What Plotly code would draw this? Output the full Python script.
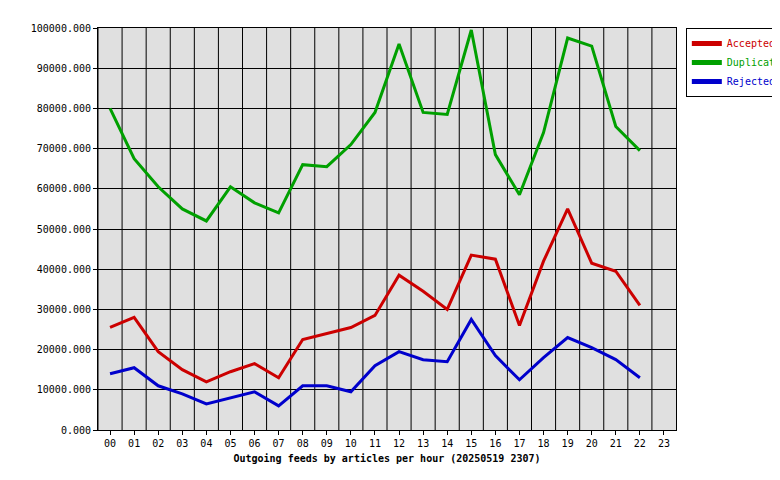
import plotly.graph_objects as go

hours = [f"{h:02d}" for h in range(24)]
accepted = [25500, 28000, 19500, 15000, 12000, 14500, 16500, 13000, 22500, 24000, 25500, 28500,
            38500, 34500, 30000, 43500, 42500, 26000, 42000, 55000, 41500, 39500, 31000]
duplicates = [80000, 67500, 60500, 55000, 52000, 60500, 56500, 54000, 66000, 65500, 71000, 79000,
              96000, 79000, 78500, 99500, 68500, 58500, 74000, 97500, 95500, 75500, 69500]
rejected = [14000, 15500, 11000, 9000, 6500, 8000, 9500, 6000, 11000, 11000, 9500, 16000,
            19500, 17500, 17000, 27500, 18500, 12500, 18000, 23000, 20500, 17500, 13000]

series = [("Accepted", accepted, "#cc0000"),
          ("Duplicates", duplicates, "#00a000"),
          ("Rejected", rejected, "#0000cc")]

fig = go.Figure()
for name, vals, color in series:
    fig.add_trace(go.Scatter(
        x=hours[:len(vals)], y=vals, mode="lines",
        line=dict(color=color, width=3),
        name=f"<span style='color:{color}'>{name}</span>",
    ))

mono = "DejaVu Sans Mono"
fig.update_layout(
    width=780, height=480,
    margin=dict(l=90, r=112, t=20, b=58, autoexpand=False),
    paper_bgcolor="white", plot_bgcolor="#e0e0e0",
    font=dict(family=mono, size=10, color="black"),
    showlegend=True,
    legend=dict(x=1.017, y=1, xanchor="left", yanchor="top",
                bordercolor="black", borderwidth=1, bgcolor="white",
                font=dict(family=mono, size=10), itemwidth=30, tracegroupgap=0,
                itemsizing="constant"),
)
fig.update_xaxes(
    type="category", categoryorder="array", categoryarray=hours,
    range=[-0.5, 23.5], tickvals=hours, ticktext=hours,
    showgrid=False, showline=True, linecolor="black", mirror=True,
    ticks="outside", ticklen=4, tickcolor="black", automargin=False,
    title=dict(text="<b>Outgoing feeds by articles per hour (20250519 2307)</b>",
               font=dict(family=mono, size=10), standoff=6),
)
# vertical grid lines between categories
for i in range(24):
    fig.add_vline(x=i - 0.5, line=dict(color="black", width=1), layer="below")
fig.update_yaxes(
    range=[0, 100000], dtick=10000, tickformat=".3f",
    showgrid=True, gridcolor="black", gridwidth=1,
    showline=True, linecolor="black", mirror=True, automargin=False,
    ticks="outside", ticklen=4, tickcolor="black", zeroline=False,
)
fig.write_html("out.html")
